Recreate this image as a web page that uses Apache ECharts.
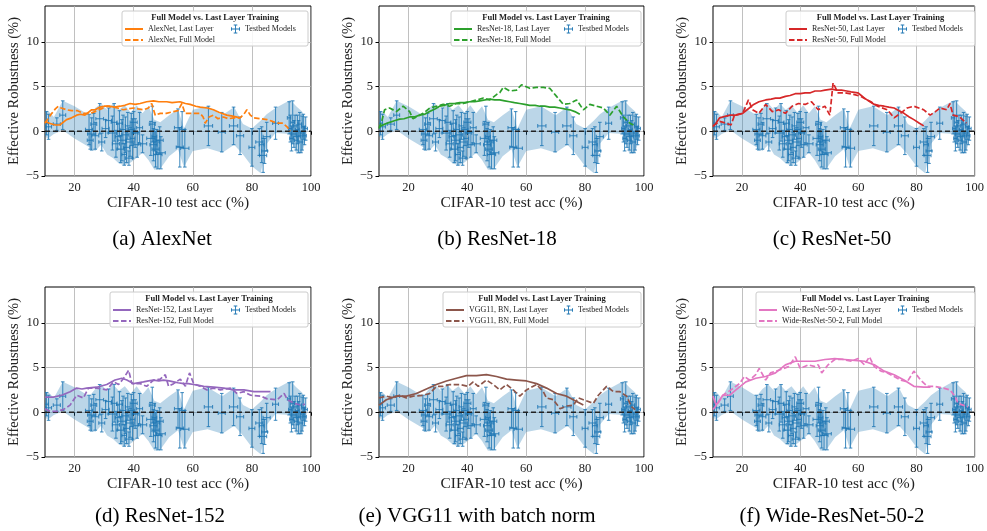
<!DOCTYPE html>
<html>
<head>
<meta charset="utf-8">
<script src="https://cdn.jsdelivr.net/npm/echarts@6/dist/echarts.min.js"></script>
<style>
  html, body { margin: 0; padding: 0; background: #fff; }
  #chart { width: 987px; height: 531px; }
</style>
</head>
<body>
<div id="chart"></div>
<script>
// Ticks
const xTickValues = [20, 40, 60, 80, 100];
const yTickValues = [-5, 0, 5, 10];

// Testbed models (same in every panel): x, y, x error, y error
const tbX    = [10.5, 11.2, 14.0, 16.0, 24.9, 25.3, 25.8, 26.5, 27.0, 28.5, 29.2, 30.5, 31.5, 32.8, 33.4, 34.0, 34.6, 35.2, 35.6, 36.0, 36.4, 36.8, 37.2, 37.6, 38.0, 38.4, 38.8, 39.2, 39.6, 40.0, 40.5, 41.2, 42.0, 43.0, 45.8, 46.3, 46.7, 47.0, 47.4, 47.8, 48.2, 48.8, 49.2, 55.0, 55.6, 56.4, 57.3, 65.3, 69.8, 73.8, 76.0, 80.0, 82.5, 83.3, 83.8, 84.3, 85.0, 88.0, 92.6, 93.0, 93.4, 93.8, 94.2, 94.6, 95.0, 95.4, 95.8, 96.2, 96.6, 97.0, 97.4, 97.8, 98.2];
const tbY    = [0.9, 0.5, 0.8, 1.8, 0.2, -1.0, -0.3, 0.8, -0.5, 1.4, -1.2, 0.3, 1.2, -0.2, 1.0, -1.4, -0.6, 0.9, -2.0, -1.0, 0.2, -2.6, -0.4, -1.8, 0.6, -3.0, -1.2, 0.2, -0.8, 1.0, -0.2, -1.5, 0.4, -1.4, -0.8, 0.8, -1.5, -0.6, -2.0, -1.2, -2.6, -1.0, -2.4, 0.4, -1.8, 0.2, -1.9, 0.6, -0.1, 0.6, -0.5, -1.8, -1.2, -1.5, -2.7, -2.2, -0.6, 0.9, 1.5, 0.3, -0.8, 1.0, -0.3, 0.6, -1.0, 0.2, -0.6, 0.8, -1.2, -0.2, 0.5, -0.5, 0.3];
const tbXErr = [0.6, 1.0, 1.2, 1.0, 1.2, 1.0, 1.4, 1.0, 1.2, 1.3, 1.0, 1.2, 1.0, 1.4, 1.0, 1.2, 0.8, 1.0, 1.2, 1.4, 1.0, 0.8, 1.2, 1.0, 0.8, 1.2, 1.4, 1.0, 0.8, 1.2, 1.0, 1.2, 1.0, 1.4, 1.4, 1.0, 1.2, 0.8, 1.2, 1.0, 1.4, 1.2, 1.5, 1.2, 1.2, 1.0, 1.4, 1.4, 1.2, 1.4, 1.2, 1.0, 1.2, 0.8, 1.2, 1.0, 1.2, 1.0, 0.6, 0.6, 0.6, 0.6, 0.8, 0.6, 0.6, 0.6, 0.6, 0.6, 0.6, 0.6, 0.6, 0.6, 0.6];
const tbYErr = [1.3, 1.4, 0.7, 1.6, 1.7, 1.0, 1.8, 1.2, 1.5, 1.7, 1.0, 1.0, 1.4, 1.9, 2.1, 1.5, 1.4, 1.4, 1.5, 2.3, 1.6, 1.2, 2.0, 1.7, 1.5, 0.8, 1.6, 1.8, 2.2, 1.2, 1.6, 1.4, 1.7, 1.0, 1.9, 2.0, 1.8, 1.6, 2.0, 1.4, 1.6, 1.5, 1.8, 2.1, 2.2, 2.0, 2.1, 2.2, 2.2, 2.1, 2.1, 2.1, 1.5, 2.0, 1.9, 1.4, 1.6, 1.8, 1.8, 1.5, 1.4, 2.4, 1.5, 1.2, 1.1, 1.6, 1.8, 1.3, 1.2, 1.9, 1.4, 1.0, 1.3];

// Shaded band around the testbed models
const bandX     = [10, 11, 13, 16, 20, 25, 27, 29, 31, 33, 35, 37, 39, 41, 43, 45, 47, 49, 52, 55, 57, 60, 65, 70, 74, 77, 80, 83, 85, 88, 93, 95, 97, 98];
const bandUpper = [2.2, 2.3, 1.6, 3.4, 2.8, 1.8, 2.6, 3.1, 2.4, 3.1, 2.4, 2.9, 2.1, 2.9, 2.0, 2.8, 1.3, 1.0, 1.8, 2.5, 0.3, 2.4, 2.8, 1.8, 2.7, 0.8, 0.3, 1.2, 1.9, 2.6, 3.5, 2.8, 2.2, 1.5];
const bandLower = [-0.6, -0.8, -0.3, 0.1, -0.8, -1.8, -2.2, -1.5, -2.6, -3.0, -3.6, -3.8, -3.5, -3.0, -2.4, -3.2, -4.3, -4.2, -2.8, -2.0, -4.0, -2.2, -1.9, -2.4, -1.5, -2.6, -3.9, -4.7, -1.4, -0.2, -0.3, -2.5, -2.4, -1.3];

// Effective robustness curves, [CIFAR-10 acc, effective robustness]
const alexnetLast = [[10,1.1],[11.5,0.9],[13.4,0.7],[15,0.7],[17.3,1.3],[19,1.5],[20.7,1.8],[22,1.9],[23.5,1.8],[25.8,2.4],[27,2.4],[28.6,2.7],[30,2.8],[32,2.8],[33.5,2.7],[35.4,2.8],[37,2.9],[38.8,3.1],[40.5,3.0],[42.2,3.1],[44.4,3.3],[46.7,3.4],[48.5,3.3],[51.2,3.3],[53,3.2],[55.7,3.3],[57.5,3.1],[59.1,3.0],[61,2.8],[62.5,2.7],[65,2.6],[67,2.4],[69,2.1],[71.5,1.8],[73.5,1.7],[76,1.5]];
const alexnetFull = [[10,0.9],[11,1.4],[12.3,2.0],[13.5,2.5],[14.5,2.8],[15.5,2.6],[17.3,2.4],[19,2.3],[21,2.3],[23,2.0],[25.2,2.0],[27,2.2],[29,2.5],[31,2.8],[33,2.7],[34.5,2.6],[36.5,2.4],[38,2.5],[40,2.6],[41.5,2.5],[43.3,2.4],[45,2.6],[46.1,3.1],[47.3,1.8],[49,2.0],[51,2.0],[53.5,2.2],[55,2.3],[56.3,3.1],[57.4,2.0],[60,2.0],[62.5,2.0],[63.5,1.6],[64.2,0.9],[65.5,1.6],[67,1.8],[68.5,1.4],[70.4,1.6],[72,1.4],[73.8,1.5],[76,1.5],[77.3,1.9],[78.3,2.4],[79.5,1.8],[80.6,1.5],[83,1.4],[85.1,1.3],[87,1.1],[88.5,0.9],[90.5,0.9],[91.9,0.5],[93,0]];

const resnet18Last = [[10,0.5],[12,0.8],[13.6,1.0],[15.5,1.2],[17,1.35],[18.5,1.4],[20.4,1.6],[22,1.6],[23.8,1.8],[25.5,1.9],[27.2,2.2],[29,2.5],[30.6,2.8],[32.3,2.9],[34,3.1],[35.7,3.1],[37.4,3.2],[39,3.2],[40.8,3.3],[42.5,3.3],[44.2,3.4],[46,3.5],[47.6,3.6],[49.3,3.5],[51,3.5],[52.7,3.4],[54.4,3.3],[56,3.2],[57.8,3.1],[59.5,3.0],[61.2,2.9],[63,2.9],[64.6,2.8],[66.3,2.8],[68,2.7],[69.7,2.7],[71.4,2.6],[73,2.5],[74.8,2.4],[76.5,2.2],[78.2,1.9]];
const resnet18Full = [[10,0.3],[11,1.2],[11.9,2.4],[13.6,2.6],[15.9,2.2],[18.2,2.8],[20.4,2.2],[21.5,1.4],[22.7,1.6],[25,2.0],[27.2,2.6],[29.5,2.8],[31.8,3.0],[34,2.8],[36.3,3.1],[38.6,3.1],[40.8,3.3],[43.1,3.5],[45.4,3.7],[47.6,3.5],[49.9,4.1],[51,4.3],[52.2,4.9],[54.4,4.5],[56.7,4.6],[58.4,5.2],[61.2,4.8],[63.5,4.9],[65.8,4.9],[68,4.8],[70.3,3.9],[72.6,3.0],[74.8,3.1],[77.1,3.5],[79.4,2.4],[81.6,3.0],[83.9,2.8],[86.2,2.6],[88.4,1.8],[90.7,2.8],[93,1.6],[95.2,0.9],[96.4,0.7]];

const resnet50Last = [[10,0.5],[11,0.9],[12.3,1.5],[14.5,1.7],[16,1.8],[17.9,1.8],[20.2,2.0],[22.5,2.6],[24,3.0],[25.8,3.3],[28.1,3.5],[30,3.6],[31.5,3.7],[33,3.7],[34.9,3.9],[36.5,4.0],[38.3,4.2],[40,4.2],[41.7,4.3],[43.5,4.3],[45.1,4.5],[47,4.5],[48.5,4.6],[50.8,4.7],[52.5,4.6],[54.2,4.6],[56,4.5],[57.5,4.4],[59.8,4.3],[61,4.0],[62.1,3.7],[64,3.3],[65.5,3.0],[67,2.9],[68.9,2.8],[70.5,2.7],[72.3,2.6],[74,2.3],[75.7,2.0],[77.5,1.6],[79.1,1.3],[81,0.9],[82.5,0.6]];
const resnet50Full = [[10,0.6],[12.3,1.1],[14.5,0.9],[16.2,0.7],[17.4,1.8],[20.2,2.0],[22.2,3.5],[23.6,2.4],[25.8,2.0],[28.1,3.0],[30.4,2.2],[32.6,2.4],[34.9,2.0],[37.2,2.8],[39.4,3.1],[41.7,3.0],[43.9,3.3],[46.2,2.4],[48.5,2.8],[50.2,1.8],[51.3,5.4],[53,4.3],[55.3,4.3],[58.7,4.1],[60.9,3.9],[62.5,3.6],[64.3,3.3],[66.6,2.8],[70,2.4],[72.3,1.5],[74.5,2.0],[76.8,2.6],[79.1,2.8],[82.5,2.4],[84.7,1.8],[86.5,2.2],[88.1,2.6],[90.4,2.4],[91.5,3.1],[92.6,1.8],[94.9,1.6],[97.2,0.9]];

const resnet152Last = [[10,1.7],[12.8,1.7],[15.6,1.9],[18.5,2.3],[20.7,2.7],[22.5,2.6],[24.1,2.7],[27.5,2.8],[30.9,3.1],[33.7,3.6],[36,3.8],[37.7,3.6],[40,3.2],[41.5,3.3],[43.3,3.4],[45,3.5],[46.7,3.6],[48.5,3.5],[50.1,3.6],[52,3.5],[53.5,3.4],[55,3.3],[56.9,3.2],[58.5,3.2],[60.3,3.1],[62,3.0],[63.7,2.9],[67.1,2.8],[70.5,2.7],[73.9,2.5],[77.3,2.5],[80.7,2.3],[84.1,2.3],[86.3,2.3]];
const resnet152Full = [[10,0.4],[11.7,0.1],[14,0.1],[16.2,0.3],[18.5,0.8],[20.7,1.9],[23,1.6],[24.7,2.7],[27.5,2.7],[30.9,2.5],[33.2,3.4],[34.9,3.1],[36.6,3.8],[38.3,4.7],[39.4,3.2],[42.2,3.2],[44.4,2.9],[46.7,3.6],[49,3.7],[50.7,4.2],[51.8,2.9],[53.5,3.2],[55.8,3.7],[57.5,2.9],[58.9,4.4],[60.3,3.2],[62.5,2.9],[64.8,2.5],[67.1,2.7],[69.3,2.5],[72.7,2.7],[75,2.1],[77.3,2.3],[79.6,1.9],[83,1.8],[85.2,1.5],[88.6,1.4],[90.9,2.1],[92,1.4],[94.3,1.0],[96.5,0.8],[98,0.9]];

const vgg11bnLast = [[10,0.8],[12.5,1.4],[15.9,1.8],[19.3,1.8],[22.7,2.1],[26.1,2.6],[29.5,3.1],[32.9,3.5],[36.3,3.8],[39.7,4.1],[43.1,4.1],[46.5,4.2],[49.9,4.0],[53.3,3.7],[56.7,3.6],[60.1,3.5],[63.5,3.2],[66.9,2.7],[70.3,2.1],[73.7,1.8],[77.1,1.2],[79.4,0.8]];
const vgg11bnFull = [[10,1.6],[12.5,1.8],[14.8,1.6],[17,1.9],[19.3,1.6],[21.6,1.8],[25,1.9],[27.2,2.1],[29.5,2.9],[31.8,2.9],[34,3.1],[37.4,3.1],[40.3,2.9],[42,3.4],[43.7,2.9],[46.5,3.6],[48.8,3.1],[51,2.5],[53.3,3.1],[55.6,2.5],[57.8,1.8],[60.1,2.5],[63.5,3.1],[65.8,2.3],[66.9,1.6],[69.2,1.4],[71.5,0.4],[73.7,0.7],[76,0.8],[77.7,1.6],[79.4,1.4],[82.8,1.0],[84.5,1.9],[87.3,2.9],[89.6,2.3],[91.8,2.3],[94.1,1.8],[95.8,0.6],[97,0.3]];

const wrn502Last = [[10,1.8],[11.1,0.8],[13.4,1.9],[15.7,1.9],[17.9,2.5],[21.3,3.4],[24.7,3.8],[28.1,4.0],[31.5,4.4],[34.9,5.3],[38.3,5.7],[41.7,5.7],[45.1,5.7],[48.5,5.9],[51.9,6.0],[55.3,5.9],[58.7,5.8],[62.1,5.7],[65.5,5.3],[68.9,4.6],[72.3,4.2],[75.7,3.6],[79.1,2.9],[82.5,2.8],[84.8,2.8]];
const wrn502Full = [[10,0.3],[11.7,1.0],[13.4,1.9],[16.2,2.5],[19.1,3.2],[20.8,4.0],[22.5,3.6],[24.7,4.2],[25.9,4.9],[28.1,3.6],[29.8,4.4],[32.6,4.7],[36,5.1],[38.3,6.2],[40,4.9],[42.8,5.3],[45.1,5.1],[46.2,5.3],[47.4,4.4],[49.6,5.3],[51.9,5.9],[54.7,5.9],[57.6,5.7],[59.9,6.0],[62.1,5.3],[63.8,6.2],[65.5,5.1],[67.8,4.6],[70,4.4],[72.3,4.0],[74.6,3.6],[76.8,3.4],[79.1,4.6],[81.4,3.6],[83.7,2.9],[85.9,2.9],[89.3,2.7],[91.5,2.5],[93.2,1.8],[94.3,1.0],[96,0.8],[97.7,0.6]];

const modelNames = ['AlexNet', 'ResNet-18', 'ResNet-50', 'ResNet-152', 'VGG11, BN', 'Wide-ResNet-50-2'];
const captions = ['(a) AlexNet', '(b) ResNet-18', '(c) ResNet-50', '(d) ResNet-152', '(e) VGG11 with batch norm', '(f) Wide-ResNet-50-2'];
const lastLayerData = [alexnetLast, resnet18Last, resnet50Last, resnet152Last, vgg11bnLast, wrn502Last];
const fullModelData = [alexnetFull, resnet18Full, resnet50Full, resnet152Full, vgg11bnFull, wrn502Full];
const colors = ['#ff7f0e', '#2ca02c', '#d62728', '#9467bd', '#8c564b', '#e377c2'];

// layout of the six panels
const gridPos = [
  { left: 45, top: 6, width: 266, height: 170 },
  { left: 379, top: 6, width: 265, height: 170 },
  { left: 713, top: 6, width: 265, height: 170 },
  { left: 45, top: 287, width: 266, height: 170 },
  { left: 379, top: 287, width: 265, height: 170 },
  { left: 713, top: 287, width: 265, height: 170 }
];
const legendWidths = [186, 190, 189, 198, 198, 219];
const captionPos = [[162, 229], [497, 229], [832, 229], [160, 506], [477, 506], [832, 506]];

const FONT = "'Liberation Serif', 'DejaVu Serif', serif";
const BLUE = '#1f77b4';
const ERR_ICON = 'path://M0,4.5H10V5.5H0Z M4.5,0H5.5V10H4.5Z M3,0H7V1H3Z M3,9H7V10H3Z M0,3H1V7H0Z M9,3H10V7H9Z';
const SOLID_ICON = 'path://M0,0H18V2H0Z';
const DASH_ICON = 'path://M0,0H5.5V2H0Z M8,0H13.5V2H8Z M16,0H18V2H16Z';

const testbed = tbX.map((x, k) => [x, tbY[k], tbXErr[k], tbYErr[k]]);

function renderBand(params, api) {
  const up = bandX.map((x, k) => api.coord([x, bandUpper[k]]));
  const lo = bandX.map((x, k) => api.coord([x, bandLower[k]])).reverse();
  return {
    type: 'polygon',
    shape: { points: up.concat(lo) },
    style: { fill: 'rgba(31,119,180,0.3)', stroke: null }
  };
}

function renderErrorBar(params, api) {
  const x = api.value(0), y = api.value(1), ex = api.value(2), ey = api.value(3);
  const c = api.coord([x, y]);
  const l = api.coord([x - ex, y])[0], r = api.coord([x + ex, y])[0];
  const t = api.coord([x, y + ey])[1], b = api.coord([x, y - ey])[1];
  const cap = 1.8;
  const style = { stroke: 'rgba(31,119,180,0.8)', lineWidth: 1.1, fill: null };
  const seg = (x1, y1, x2, y2) => ({ type: 'line', shape: { x1, y1, x2, y2 }, style });
  return {
    type: 'group',
    children: [
      seg(l, c[1], r, c[1]),
      seg(c[0], t, c[0], b),
      seg(c[0] - cap, t, c[0] + cap, t),
      seg(c[0] - cap, b, c[0] + cap, b),
      seg(l, c[1] - cap, l, c[1] + cap),
      seg(r, c[1] - cap, r, c[1] + cap)
    ]
  };
}

const grids = [], xAxes = [], yAxes = [], series = [], legends = [], titles = [], graphics = [];

gridPos.forEach((g, i) => {
  grids.push(Object.assign({ show: true, borderColor: '#000', borderWidth: 1, backgroundColor: 'transparent' }, g));

  xAxes.push({
    gridIndex: i, type: 'value', min: 10, max: 100,
    axisLine: { show: false },
    axisTick: { show: true, length: 3.5, customValues: xTickValues, lineStyle: { color: '#000' } },
    axisLabel: { customValues: xTickValues, fontFamily: FONT, fontSize: 12.5, color: '#222', margin: 5 },
    splitLine: { show: true, lineStyle: { color: '#b0b0b0', width: 0.8 } },
    name: 'CIFAR-10 test acc (%)', nameLocation: 'middle', nameGap: 16,
    nameTextStyle: { fontFamily: FONT, fontSize: 15.5, color: '#222' }
  });

  yAxes.push({
    gridIndex: i, type: 'value', min: -5, max: 14,
    axisLine: { show: false },
    axisTick: { show: true, length: 3.5, customValues: yTickValues, lineStyle: { color: '#000' } },
    axisLabel: {
      customValues: yTickValues, fontFamily: FONT, fontSize: 12.5, color: '#222', margin: 6,
      formatter: (v) => String(v).replace('-', '\u2212')
    },
    splitLine: { show: true, lineStyle: { color: '#b0b0b0', width: 0.8 } },
    name: 'Effective Robustness (%)', nameLocation: 'middle', nameGap: 21,
    nameTextStyle: { fontFamily: FONT, fontSize: 14.5, color: '#222' }
  });

  const lastName = modelNames[i] + ', Last Layer';
  const fullName = modelNames[i] + ', Full Model';

  series.push({
    type: 'custom', xAxisIndex: i, yAxisIndex: i, data: [[10, 0]],
    renderItem: renderBand, silent: true, z: 1, clip: true
  });
  series.push({
    name: 'Testbed Models', type: 'custom', xAxisIndex: i, yAxisIndex: i,
    data: testbed, encode: { x: 0, y: 1 }, renderItem: renderErrorBar,
    itemStyle: { color: BLUE }, silent: true, z: 2, clip: true
  });
  series.push({
    type: 'line', xAxisIndex: i, yAxisIndex: i, data: [[10, 0], [100, 0]],
    symbol: 'none', silent: true, z: 3,
    lineStyle: { color: '#222', width: 1.6, type: [5, 3] }
  });
  series.push({
    name: lastName, type: 'line', xAxisIndex: i, yAxisIndex: i, data: lastLayerData[i],
    symbol: 'none', z: 4, color: colors[i],
    lineStyle: { color: colors[i], width: 1.7 }
  });
  series.push({
    name: fullName, type: 'line', xAxisIndex: i, yAxisIndex: i, data: fullModelData[i],
    symbol: 'none', z: 4, color: colors[i],
    lineStyle: { color: colors[i], width: 1.7, type: [5.5, 2.5] }
  });

  // legend box
  const bw = legendWidths[i];
  const bx = g.left + g.width - 3 - bw;
  const by = g.top + 5;
  graphics.push({
    type: 'rect', z: 100,
    shape: { x: bx, y: by, width: bw, height: 35, r: 2 },
    style: { fill: 'rgba(255,255,255,0.85)', stroke: '#cccccc', lineWidth: 1 }
  });
  graphics.push({
    type: 'text', z: 101, x: bx + bw / 2, y: by + 2,
    style: {
      text: 'Full Model vs. Last Layer Training', fontFamily: FONT, fontSize: 8.5,
      fontWeight: 'bold', fill: '#222', align: 'center', verticalAlign: 'top'
    }
  });
  legends.push({
    data: [{ name: lastName, icon: SOLID_ICON }, { name: fullName, icon: DASH_ICON }],
    orient: 'vertical', left: bx + 3, top: by + 13,
    itemWidth: 18, itemHeight: 2, itemGap: 1, padding: 0, selectedMode: false, z: 110,
    textStyle: { fontFamily: FONT, fontSize: 8, color: '#222', lineHeight: 10 }
  });
  legends.push({
    data: [{ name: 'Testbed Models', icon: ERR_ICON }], left: bx + bw - 77, top: by + 13,
    itemWidth: 9, itemHeight: 9, padding: 0, selectedMode: false, z: 110,
    textStyle: { fontFamily: FONT, fontSize: 8, color: '#222', lineHeight: 10 }
  });

  titles.push({
    text: captions[i], left: captionPos[i][0], top: captionPos[i][1], textAlign: 'center', padding: 0,
    textStyle: { fontFamily: FONT, fontSize: 21, fontWeight: 'normal', color: '#000' }
  });
});

const chart = echarts.init(document.getElementById('chart'), null, { renderer: 'canvas' });
chart.setOption({
  animation: false,
  backgroundColor: '#fff',
  title: titles,
  grid: grids,
  xAxis: xAxes,
  yAxis: yAxes,
  legend: legends,
  graphic: { elements: graphics },
  series: series
});
</script>
</body>
</html>
